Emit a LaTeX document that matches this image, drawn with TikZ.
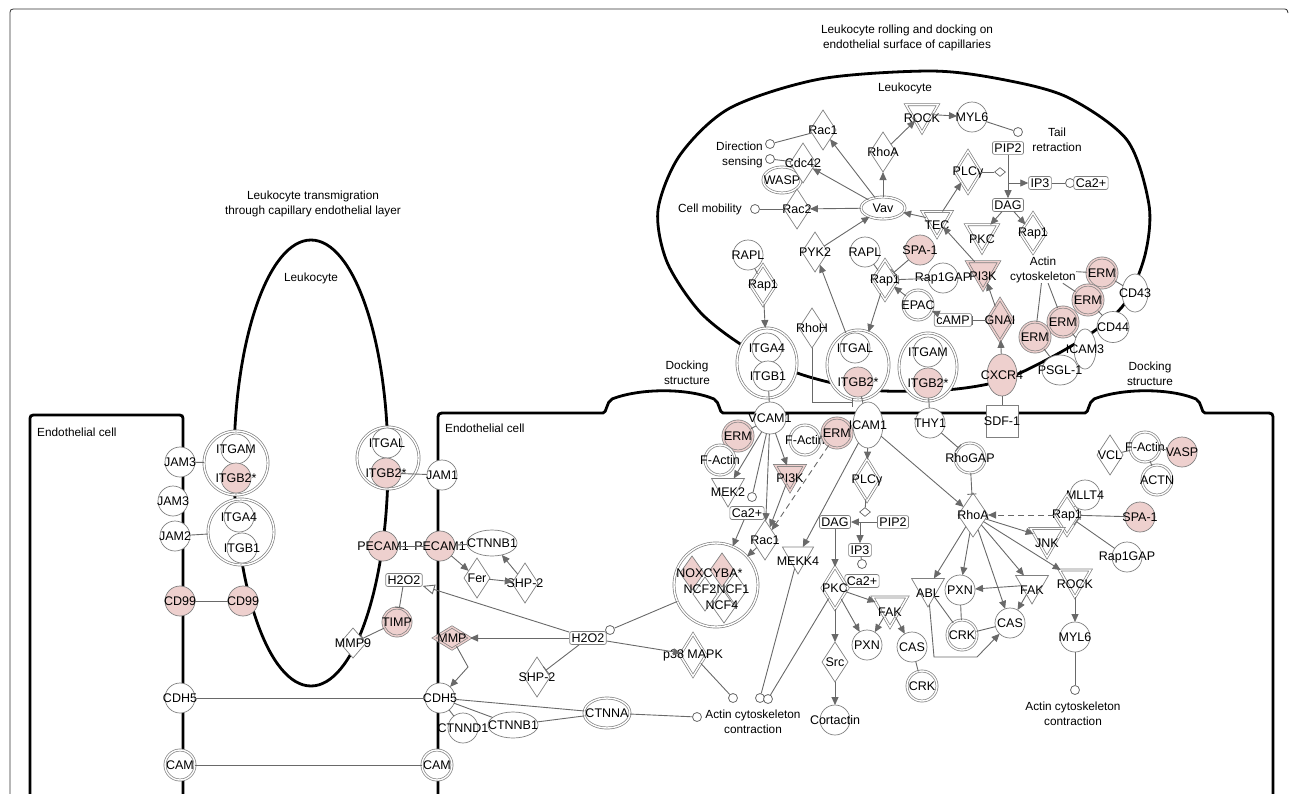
\documentclass[tikz,border=0pt]{standalone}
\usepackage{fontspec}
\setmainfont{Liberation Sans}
\usetikzlibrary{shapes.geometric,arrows.meta}
\definecolor{pinkc}{RGB}{238,208,206}
\definecolor{nb}{RGB}{128,128,128}
\definecolor{lc}{RGB}{105,105,105}
\begin{document}
\begin{tikzpicture}[x=1pt,y=-1pt,
  every label/.style={font=\fontsize{12.5}{13}\selectfont, inner sep=0pt, text=black},
  nbase/.style={draw=nb, line width=0.7pt, fill=white, inner sep=0pt, outer sep=0pt},
  cir/.style={nbase, circle, minimum size=30pt},
  dbl/.style={double=white, double distance=1.4pt},
  pk/.style={fill=pinkc},
  dpk/.style={double=pinkc, double distance=1.4pt, fill=pinkc},
  dia/.style={nbase, diamond, minimum width=26pt, minimum height=40pt},
  tri/.style={nbase, regular polygon, regular polygon sides=3, shape border rotate=180, minimum size=38pt},
  ell/.style={nbase, ellipse},
  bx/.style={draw=nb, line width=0.7pt, fill=white, rounded corners=2pt, inner sep=2pt, font=\fontsize{12.5}{13}\selectfont},
  ec/.style={draw=lc, line width=0.8pt, fill=white, circle, minimum size=9pt, inner sep=0pt},
  sd/.style={draw=lc, fill=white, line width=0.7pt, diamond, minimum width=11pt, minimum height=9pt, inner sep=0pt},
  cx/.style={nbase, circle, double=white, double distance=1.4pt},
  txt/.style={font=\fontsize{11.8}{15}\selectfont, align=center, inner sep=0pt},
  lab/.style={font=\fontsize{12.5}{13}\selectfont, inner sep=0pt},
  mem/.style={line width=2.8pt, black},
  ln/.style={draw=lc, line width=0.9pt},
  arr/.style={ln, -{Triangle[length=8pt,width=7pt]}},
  inh/.style={ln, -{Bar[width=9pt]}},
  oarr/.style={ln, -{Triangle[open,length=12pt,width=10pt]}},
  dsh/.style={dash pattern=on 6pt off 4pt}
]
\useasboundingbox (0,0) rectangle (1290,793);
% frame
\draw[line width=0.8pt, black!80] (10,800) -- (10,16) .. controls (10,9) .. (17,9) -- (1282,9) .. controls (1287,9) .. (1288,13);
% membranes
\draw[mem] (311,463) ellipse [x radius=77, y radius=223];
\draw[mem] plot[smooth cycle] coordinates {(930,71) (1000,79) (1067,97) (1127,140) (1149,205) (1145,255) (1125,303) (1093,332) (1050,358) (1000,381) (945,390) (870,390) (800,374) (745,347) (700,312) (667,262) (658,210) (680,155) (730,108) (820,79)};
\draw[mem] (30,800) -- (30,422) .. controls (30,415) .. (37,415) -- (176,415) .. controls (183,415) .. (183,422) -- (183,800);
\draw[mem] (438,800) -- (438,421) .. controls (438,413) .. (446,413) -- (603,413) .. controls (607,413) and (606,402) .. (612,399) .. controls (640,388) and (688,388) .. (714,399) .. controls (720,402) and (719,413) .. (723,413) -- (1085,413) .. controls (1089,413) and (1088,402) .. (1094,399) .. controls (1122,388) and (1170,388) .. (1196,399) .. controls (1202,402) and (1201,413) .. (1205,413) -- (1265,413) .. controls (1273,413) .. (1273,421) -- (1273,800);
% texts
\node[txt] (ttitle1) at (313,204) {Leukocyte transmigration\\through capillary endothelial layer};
\node[txt] (tleuk1) at (311,278) {Leukocyte};
\node[txt] (ttitle2) at (907,38) {Leukocyte rolling and docking on\\endothelial surface of capillaries};
\node[txt] (tleuk2) at (905,88) {Leukocyte};
\node[txt, anchor=west] (tend1) at (37,432) {Endothelial cell};
\node[txt, anchor=west] (tend2) at (445,428) {Endothelial cell};
\node[txt] (tdock1) at (687,373) {Docking\\structure};
\node[txt] (tdock2) at (1150,374) {Docking\\structure};
% ---------- left ----------
\node[cir, label=center:JAM3] (jam3a) at (180,462) {};
\node[cir, label=center:JAM3] (jam3b) at (173,501) {};
\node[cir, label=center:JAM2] (jam2) at (175,536) {};
\node[cir, pk, label=center:CD99] (cd99a) at (180,601) {};
\node[cir, label=center:CDH5] (cdh5a) at (180,698) {};
\node[cir, dbl, label=center:CAM] (cama) at (180,765) {};
\node[cx, minimum size=64pt] (cxA) at (236,463) {};
\node[cir, label=center:ITGAM] (itgamA) at (236,449) {};
\node[cir, pk, label=center:ITGB2*] (itgb2A) at (236,478) {};
\node[cx, minimum size=66pt] (cxB) at (241,532) {};
\node[cir, label=center:ITGA4] (itga4B) at (239,517) {};
\node[cir, label=center:ITGB1] (itgb1B) at (242,548) {};
\node[cir, pk, label=center:CD99] (cd99b) at (243,601) {};
\node[cx, minimum size=62pt] (cxC) at (388,458) {};
\node[cir, label=center:ITGAL] (itgalC) at (387,443) {};
\node[cir, pk, label=center:ITGB2*] (itgb2C) at (386,473) {};
\node[cir, label=center:JAM1] (jam1) at (442,475) {};
\node[cir, pk, label=center:PECAM1] (pecam1a) at (383,546) {};
\node[cir, pk, label=center:PECAM1] (pecam1b) at (440,546) {};
\node[bx] (h2o2a) at (404,580) {H2O2};
\node[cir, dpk, minimum size=28pt, label=center:TIMP] (timp) at (397,622) {};
\node[dia, minimum width=26pt, minimum height=30pt, label=center:MMP9] (mmp9) at (353,643) {};
% ---------- middle left ----------
\node[ell, minimum width=50pt, minimum height=26pt, label=center:CTNNB1] (ctnnb1a) at (492,543) {};
\node[dia, label=center:Fer] (fer) at (477,578) {};
\node[dia, label=center:SHP-2] (shp2a) at (525,583) {};
\node[dia, dpk, minimum width=36pt, minimum height=22pt, label=center:MMP] (mmp) at (452,638) {};
\node[bx] (h2o2b) at (588,638) {H2O2};
\node[ec] (ecN) at (610,630) {};
\node[dia, label=center:SHP-2] (shp2b) at (537,677) {};
\node[dia, dbl, minimum height=42pt, label=center:p38 MAPK] (p38) at (693,655) {};
\node[cir, label=center:CDH5] (cdh5b) at (440,698) {};
\node[cir, label=center:CTNND1] (ctnnd1) at (463,728) {};
\node[ell, minimum width=50pt, minimum height=26pt, label=center:CTNNB1] (ctnnb1b) at (513,725) {};
\node[ell, dbl, minimum width=46pt, minimum height=30pt, label=center:CTNNA] (ctnna) at (607,713) {};
\node[ec] (ec2) at (697,717) {};
\node[txt] (tac1) at (753,722) {Actin cytoskeleton\\contraction};
\node[cir, dbl, label=center:CAM] (camb) at (437,765) {};
% ---------- middle ----------
\node[cir, minimum size=32pt, label=center:VCAM1] (vcam1) at (770,418) {};
\node[cir, dpk, label=center:ERM] (erm1) at (738,436) {};
\node[cir, dbl, label=center:F-Actin] (fact1) at (720,460) {};
\node[cir, dbl, label=center:F-Actin] (fact2) at (805,440) {};
\node[cir, dpk, label=center:ERM] (erm2) at (837,433) {};
\node[ell, minimum width=30pt, minimum height=46pt, label=center:ICAM1] (icam1) at (868,425) {};
\node[tri, label={[yshift=-4pt]center:MEK2}] (mek2) at (728,488) {};
\node[ec] (ec3) at (752,497) {};
\node[bx] (ca2a) at (747,513) {Ca2+};
\node[tri, dpk, minimum size=34pt, label={[yshift=-4pt]center:PI3K}] (pi3k2) at (790,474) {};
\node[dia, label=center:Rac1] (rac1b) at (765,540) {};
\node[cx, minimum size=84pt] (noxcx) at (716,585) {};
\node[dia, pk, minimum width=24pt, minimum height=34pt] (nox) at (692,573) {};
\node[dia, pk, minimum width=24pt, minimum height=34pt] (cyba) at (722,570) {};
\node[dia, fill=none, minimum width=24pt, minimum height=34pt] (ncf2) at (705,594) {};
\node[dia, fill=none, minimum width=24pt, minimum height=34pt] (ncf1) at (735,590) {};
\node[dia, fill=none, minimum width=24pt, minimum height=34pt] (ncf4) at (724,606) {};
\node[lab] (lnox) at (690,573) {NOX};
\node[lab] (lcyba) at (723,573) {CYBA*};
\node[lab] (lncf2) at (700,589) {NCF2};
\node[lab] (lncf1) at (733,589) {NCF1};
\node[lab] (lncf4) at (722,605) {NCF4};
\node[tri, minimum size=36pt, label={[yshift=-5pt]center:MEKK4}] (mekk4) at (798,556) {};
\node[dia, dbl, minimum height=42pt, label=center:PLCγ] (plcg2) at (867,480) {};
\node[sd] (ecd2) at (865,512) {};
\node[bx] (dag2) at (835,522) {DAG};
\node[bx] (pip22) at (893,522) {PIP2};
\coordinate (j1) at (860,522);
\node[bx] (ip32) at (860,550) {IP3};
\node[ec] (ec4) at (862,564) {};
\node[bx] (ca2b) at (862,581) {Ca2+};
\node[dia, dbl, minimum height=42pt, label=center:PKC] (pkc2) at (835,588) {};
\node[tri, dbl, minimum size=40pt, label={[yshift=-5pt]center:FAK}] (fak2) at (890,607) {};
\node[cir, label=center:PXN] (pxn2) at (867,645) {};
\node[cir, label=center:CAS] (cas2) at (912,647) {};
\node[cir, dbl, label=center:CRK] (crk2) at (922,686) {};
\node[dia, label=center:Src] (src) at (835,662) {};
\node[cir, label=center:Cortactin] (cort) at (835,720) {};
\node[ec] (ec1) at (733,698) {};
\node[ec] (ec5) at (760,698) {};
\node[ec] (ec6) at (768,699) {};
% ---------- right ----------
\node[cir, label=center:THY1] (thy1) at (930,423) {};
\node[cir, dbl, label=center:RhoGAP] (rhogap) at (970,458) {};
\node[dia, minimum width=30pt, minimum height=44pt, label=center:RhoA] (rhoa2) at (973,515) {};
\node[cir, label=center:MLLT4] (mllt4) at (1085,495) {};
\node[dia, dbl, label=center:Rap1] (rap1c) at (1067,515) {};
\node[cir, pk, label=center:SPA-1] (spa1b) at (1140,517) {};
\node[cir, label=center:Rap1GAP] (rap1gap2) at (1127,557) {};
\node[tri, dbl, minimum size=38pt, label={[yshift=-5pt]center:JNK}] (jnk) at (1047,538) {};
\node[tri, dbl, minimum size=36pt, label={[yshift=-5pt]center:ROCK}] (rock2) at (1075,579) {};
\node[cir, label=center:MYL6] (myl62) at (1075,637) {};
\node[ec] (ec7) at (1075,690) {};
\node[txt] (tac2) at (1073,714) {Actin cytoskeleton\\contraction};
\node[tri, minimum size=38pt, label={[yshift=-5pt]center:FAK}] (fak3) at (1032,585) {};
\node[cir, label=center:CAS] (cas3) at (1010,623) {};
\node[cir, label=center:PXN] (pxn3) at (960,590) {};
\node[cir, dbl, label=center:CRK] (crk3) at (962,635) {};
\node[tri, minimum size=38pt, label={[yshift=-5pt]center:ABL}] (abl) at (928,588) {};
\node[dia, label=center:VCL] (vcl) at (1110,455) {};
\node[cir, dbl, label=center:F-Actin] (fact3) at (1145,447) {};
\node[cir, pk, label=center:VASP] (vasp) at (1182,452) {};
\node[cir, dbl, label=center:ACTN] (actn) at (1157,480) {};
% ---------- top leukocyte ----------
\node[dia, label=center:Rac1] (rac1a) at (823,130) {};
\node[ec] (ecA) at (770,144) {};
\node[ec] (ecB) at (770,159) {};
\node[txt, align=right, anchor=east] (tdir) at (763,155) {Direction\\sensing};
\node[ell, dbl, minimum width=38pt, minimum height=26pt, label=center:WASP] (wasp) at (782,180) {};
\node[dia, label=center:Cdc42] (cdc42) at (803,163) {};
\node[txt, anchor=east] (tcm) at (742,209) {Cell mobility};
\node[ec] (ecC) at (755,209) {};
\node[dia, label=center:Rac2] (rac2) at (797,209) {};
\node[ell, dbl, minimum width=44pt, minimum height=22pt, label=center:Vav] (vav) at (883,208) {};
\node[dia, label=center:RhoA] (rhoa1) at (883,152) {};
\node[tri, dbl, minimum size=37pt, label={[yshift=-4pt]center:ROCK}] (rock1) at (922,114) {};
\node[cir, label=center:MYL6] (myl61) at (972,117) {};
\node[ec] (ecD) at (1018,132) {};
\node[txt] (ttail) at (1057,140) {Tail\\retraction};
\node[bx] (pip21) at (1008,148) {PIP2};
\node[dia, dbl, minimum height=42pt, label=center:PLCγ] (plcg1) at (968,172) {};
\node[sd] (ecd1) at (1000,172) {};
\coordinate (j2) at (1008,183);
\node[bx] (ip31) at (1040,183) {IP3};
\node[ec] (ecE) at (1070,183) {};
\node[bx] (ca2c) at (1091,183) {Ca2+};
\node[bx] (dag1) at (1008,205) {DAG};
\node[tri, dbl, minimum size=34pt, label={[yshift=-5pt]center:TEC}] (tec) at (937,220) {};
\node[tri, dbl, minimum size=37pt, label={[yshift=-5pt]center:PKC}] (pkc1) at (982,234) {};
\node[dia, dbl, label=center:Rap1] (rap1d) at (1033,233) {};
\node[cir, label=center:RAPL] (rapl1) at (748,255) {};
\node[dia, dbl, label=center:Rap1] (rap1a) at (763,285) {};
\node[dia, label=center:PYK2] (pyk2) at (815,252) {};
\node[cir, label=center:RAPL] (rapl2) at (865,252) {};
\node[cir, pk, label=center:SPA-1] (spa1a) at (920,250) {};
\node[cir, label=center:Rap1GAP] (rap1gap1) at (943,278) {};
\node[dia, dbl, label=center:Rap1] (rap1b) at (885,280) {};
\node[tri, dpk, minimum size=37pt, label={[yshift=-5pt]center:PI3K}] (pi3k1) at (983,271) {};
\node[cir, dbl, label=center:EPAC] (epac) at (918,305) {};
\node[bx] (camp) at (953,320) {cAMP};
\node[dia, dpk, minimum height=42pt, label=center:GNAI] (gnai) at (1000,320) {};
\node[dia, label=center:RhoH] (rhoh) at (812,328) {};
\node[ell, dbl, minimum width=60pt, minimum height=70pt] (cxD) at (767,363) {};
\node[cir, label=center:ITGA4] (itga4D) at (767,348) {};
\node[cir, label=center:ITGB1] (itgb1D) at (768,376) {};
\node[ell, dbl, minimum width=62pt, minimum height=70pt] (cxE) at (858,365) {};
\node[cir, label=center:ITGAL] (itgalE) at (855,348) {};
\node[cir, pk, label=center:ITGB2*] (itgb2E) at (858,382) {};
\node[ell, dbl, minimum width=58pt, minimum height=68pt] (cxF) at (928,367) {};
\node[cir, label=center:ITGAM] (itgamF) at (928,352) {};
\node[cir, pk, label=center:ITGB2*] (itgb2F) at (928,383) {};
\node[ell, pk, minimum width=30pt, minimum height=42pt, label=center:CXCR4] (cxcr4) at (1002,375) {};
\node[nbase, rectangle, minimum size=32pt, label=center:SDF-1] (sdf1) at (1002,421) {};
\node[txt] (tact) at (1043,270) {Actin\\cytoskeleton};
\node[cir, dpk, label=center:ERM] (erm3) at (1102,273) {};
\node[cir, dpk, label=center:ERM] (erm4) at (1088,300) {};
\node[cir, dpk, label=center:ERM] (erm5) at (1063,322) {};
\node[cir, dpk, label=center:ERM] (erm6) at (1035,337) {};
\node[ell, minimum width=26pt, minimum height=38pt, label=center:CD43] (cd43) at (1135,293) {};
\node[ell, minimum width=32pt, minimum height=31pt, label=center:CD44] (cd44) at (1113,327) {};
\node[ell, minimum width=22pt, minimum height=40pt, label=center:ICAM3] (icam3) at (1085,349) {};
\node[ell, minimum width=36pt, minimum height=30pt, label=center:PSGL-1] (psgl1) at (1060,370) {};
% ---------- connectors: left ----------
\draw[ln] (jam3a) -- (cxA);
\draw[ln] (jam2) -- (cxB);
\draw[ln] (cd99a) -- (cd99b);
\draw[ln] (cdh5a) -- (cdh5b);
\draw[ln] (cama) -- (camb);
\draw[ln] (itgb2C) -- (jam1);
\draw[ln] (pecam1a) -- (pecam1b);
\draw[inh] (h2o2a) -- (timp);
\draw[inh] (timp) -- (mmp9);
\draw[oarr] (h2o2b) -- (h2o2a);
\draw[ln] (pecam1b) -- (ctnnb1a);
\draw[arr] (pecam1b) -- (fer);
\draw[arr] (fer) -- (shp2a);
\draw[arr] (shp2a) -- (ctnnb1a);
\draw[arr] (h2o2b) -- (mmp);
\draw[arr] (mmp) -- (468,667) -- (cdh5b);
\draw[inh] (h2o2b) -- (shp2b);
\draw[ln] (noxcx) -- (ecN);
\draw[arr] (h2o2b) -- (p38);
\draw[ln] (p38) -- (ec1);
\draw[ln] (cdh5b) -- (ctnnd1);
\draw[ln] (cdh5b) -- (ctnnb1b);
\draw[ln] (cdh5b) -- (ctnna);
\draw[ln] (ctnnb1b) -- (ctnna);
\draw[ln] (ctnna) -- (ec2);
% ---------- connectors: middle ----------
\draw[ln] (itgb1D) -- (vcam1);
\draw[ln] (vcam1) -- (erm1);
\draw[ln] (erm1) -- (fact1);
\draw[arr] (vcam1) -- (mek2);
\draw[ln] (vcam1) -- (ec3);
\draw[arr] (vcam1) -- (rac1b);
\draw[arr] (vcam1) -- (pi3k2);
\draw[arr] (pi3k2) -- (rac1b);
\draw[arr, dsh] (erm2) -- (rac1b);
\draw[ln] (fact2) -- (erm2);
\draw[ln] (itgb2E) -- (icam1);
\draw[arr] (ca2a) -- (noxcx);
\draw[arr] (rac1b) -- (noxcx);
\draw[arr] (icam1) -- (mekk4);
\draw[arr] (icam1) -- (plcg2);
\draw[ln] (plcg2) -- (ecd2);
\draw[arr] (pip22) -- (dag2);
\draw[arr] (j1) -- (ip32);
\draw[ln] (ip32) -- (ec4);
\draw[arr] (dag2) -- (pkc2);
\draw[arr] (pkc2) -- (fak2);
\draw[arr] (pkc2) -- (pxn2);
\draw[arr] (pkc2) -- (src);
\draw[arr] (fak2) -- (pxn2);
\draw[arr] (fak2) -- (cas2);
\draw[ln] (cas2) -- (crk2);
\draw[arr] (src) -- (cort);
\draw[ln] (pkc2) -- (ec6);
\draw[ln] (mekk4) -- (ec5);
% ---------- connectors: right ----------
\draw[ln] (itgb2F) -- (thy1);
\draw[inh] (thy1) -- (rhogap);
\draw[inh] (rhogap) -- (rhoa2);
\draw[arr] (icam1) -- (rhoa2);
\draw[arr, dsh] (rap1c) -- (rhoa2);
\draw[ln] (mllt4) -- (rap1c);
\draw[inh] (spa1b) -- (rap1c);
\draw[inh] (rap1gap2) -- (rap1c);
\draw[arr] (rhoa2) -- (jnk);
\draw[arr] (rhoa2) -- (rock2);
\draw[arr] (rhoa2) -- (fak3);
\draw[arr] (rhoa2) -- (cas3);
\draw[arr] (rhoa2) -- (pxn3);
\draw[arr] (rhoa2) -- (abl);
\draw[arr] (fak3) -- (pxn3);
\draw[arr] (fak3) -- (cas3);
\draw[arr] (rock2) -- (myl62);
\draw[ln] (myl62) -- (ec7);
\draw[ln] (pxn3) -- (crk3);
\draw[ln] (abl) -- (crk3);
\draw[ln] (crk3) -- (cas3);
\draw[arr] (abl) -- (934,657) -- (977,657) -- (cas3);
\draw[ln] (vcl) -- (fact3);
\draw[ln] (fact3) -- (vasp);
\draw[ln] (fact3) -- (actn);
% ---------- connectors: top ----------
\draw[arr] (vav) -- (rac1a);
\draw[arr] (vav) -- (cdc42);
\draw[arr] (vav) -- (rac2);
\draw[arr] (vav) -- (rhoa1);
\draw[arr] (rhoa1) -- (rock1);
\draw[arr] (rock1) -- (myl61);
\draw[ln] (myl61) -- (ecD);
\draw[ln] (rac1a) -- (ecA);
\draw[ln] (cdc42) -- (ecB);
\draw[ln] (rac2) -- (ecC);
\draw[arr] (tec) -- (vav);
\draw[arr] (tec) -- (plcg1);
\draw[ln] (plcg1) -- (ecd1);
\draw[arr] (pip21) -- (dag1);
\draw[arr] (j2) -- (ip31);
\draw[ln] (ip31) -- (ecE);
\draw[arr] (dag1) -- (pkc1);
\draw[arr] (dag1) -- (rap1d);
\draw[arr] (pi3k1) -- (tec);
\draw[arr] (gnai) -- (pi3k1);
\draw[inh] (gnai) -- (camp);
\draw[arr] (camp) -- (epac);
\draw[arr] (epac) -- (rap1b);
\draw[inh] (rap1gap1) -- (rap1b);
\draw[inh] (spa1a) -- (rap1b);
\draw[ln] (rapl2) -- (rap1b);
\draw[arr] (rap1b) -- (cxE);
\draw[arr] (cxE) -- (pyk2);
\draw[arr] (pyk2) -- (vav);
\draw[ln] (rapl1) -- (rap1a);
\draw[arr] (rap1a) -- (cxD);
\draw[inh] (rhoh) -- (812,402) -- (853,402);
\draw[arr] (cxcr4) -- (gnai);
\draw[ln] (sdf1) -- (cxcr4);
\draw[ln] (tact) -- (erm3);
\draw[ln] (tact) -- (erm4);
\draw[ln] (tact) -- (erm5);
\draw[ln] (tact) -- (erm6);
\draw[ln] (erm3) -- (cd43);
\draw[ln] (erm4) -- (cd44);
\draw[ln] (erm5) -- (icam3);
\draw[ln] (erm6) -- (psgl1);
\end{tikzpicture}
\end{document}
